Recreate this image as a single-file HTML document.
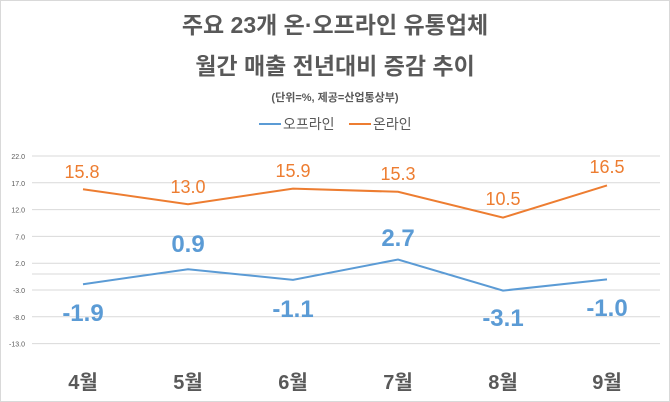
<!DOCTYPE html>
<html><head><meta charset="utf-8"><style>
body{margin:0;background:#fff}
svg{display:block}
text{font-family:"Liberation Sans","Noto Sans CJK KR",sans-serif}
</style></head><body>
<svg width="670" height="402" viewBox="0 0 670 402">
<rect x="0.5" y="0.5" width="669" height="401" fill="#fff" stroke="#d9d9d9"/>
<text x="335" y="33" text-anchor="middle" font-size="23" font-weight="bold" fill="#595959">주요 23개 온·오프라인 유통업체</text>
<text x="335" y="74" text-anchor="middle" font-size="23" font-weight="bold" fill="#595959">월간 매출 전년대비 증감 추이</text>
<text x="335" y="101" text-anchor="middle" font-size="11" font-weight="bold" fill="#595959">(단위=%, 제공=산업통상부)</text>
<line x1="259" y1="124" x2="281" y2="124" stroke="#5B9BD5" stroke-width="2"/>
<text x="283" y="129" font-size="14" fill="#595959">오프라인</text>
<line x1="349" y1="124" x2="371" y2="124" stroke="#ED7D31" stroke-width="2"/>
<text x="373" y="129" font-size="14" fill="#595959">온라인</text>
<g stroke="#d9d9d9" stroke-width="1">
<line x1="32" y1="156" x2="660" y2="156"/>
<line x1="32" y1="182.8" x2="660" y2="182.8"/>
<line x1="32" y1="209.6" x2="660" y2="209.6"/>
<line x1="32" y1="236.4" x2="660" y2="236.4"/>
<line x1="32" y1="263.2" x2="660" y2="263.2"/>
<line x1="32" y1="274" x2="660" y2="274"/>
<line x1="32" y1="290" x2="660" y2="290"/>
<line x1="32" y1="316.8" x2="660" y2="316.8"/>
<line x1="32" y1="343.6" x2="660" y2="343.6"/>
</g>
<g font-size="7" fill="#595959" text-anchor="end">
<text x="25" y="159">22.0</text><text x="25" y="186">17.0</text><text x="25" y="212.5">12.0</text>
<text x="25" y="239.5">7.0</text><text x="25" y="266">2.0</text><text x="25" y="293">-3.0</text>
<text x="25" y="320">-8.0</text><text x="25" y="346.5">-13.0</text>
</g>
<polyline fill="none" stroke="#ED7D31" stroke-width="2" points="83,189.2 188,204.2 293,188.6 398,191.8 503,217.6 607,185.4"/>
<polyline fill="none" stroke="#5B9BD5" stroke-width="2" points="83,284.2 188,269.2 293,279.9 398,259.5 503,290.6 607,279.4"/>
<g font-size="18" fill="#ED7D31" text-anchor="middle">
<text x="82" y="178">15.8</text><text x="188" y="193">13.0</text><text x="293" y="177">15.9</text>
<text x="398" y="180">15.3</text><text x="503" y="205">10.5</text><text x="607" y="173">16.5</text>
</g>
<g font-size="24" font-weight="bold" fill="#5B9BD5" text-anchor="middle">
<text x="83" y="321">-1.9</text><text x="188" y="252">0.9</text><text x="293" y="317">-1.1</text>
<text x="398" y="246">2.7</text><text x="503" y="326">-3.1</text><text x="607" y="316">-1.0</text>
</g>
<g font-size="20" font-weight="bold" fill="#595959" text-anchor="middle">
<text x="83" y="389">4월</text><text x="188" y="389">5월</text><text x="293" y="389">6월</text>
<text x="398" y="389">7월</text><text x="503" y="389">8월</text><text x="607" y="389">9월</text>
</g>
</svg>
</body></html>
